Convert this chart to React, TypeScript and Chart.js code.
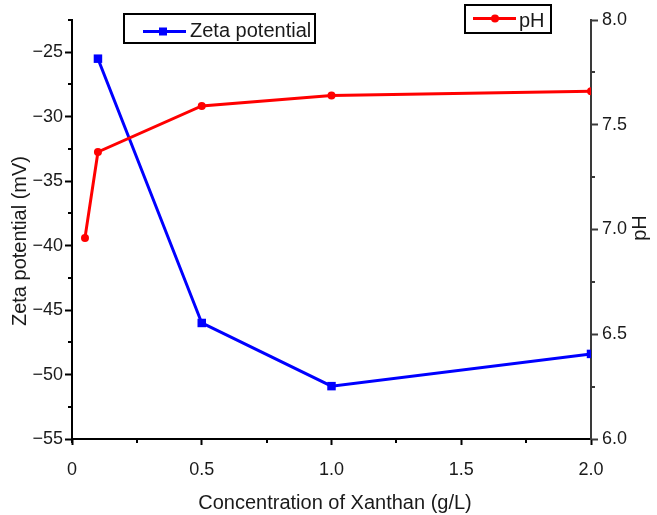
import { useEffect, useRef } from 'react';
import { Chart, registerables } from 'chart.js';

Chart.register(...registerables);

const zetaConcentration = [0.1, 0.5, 1.0, 2.0];
const zetaPotential = [-25.5, -46.0, -50.9, -48.4];
const phConcentration = [0.05, 0.1, 0.5, 1.0, 2.0];
const phValues = [6.96, 7.37, 7.59, 7.64, 7.66];

const xTicks = [0, 0.5, 1.0, 1.5, 2.0];
const xMinorTicks = [0.25, 0.75, 1.25, 1.75];
const zetaTicks = [-55, -50, -45, -40, -35, -30, -25];
const zetaMinorTicks = [-52.5, -47.5, -42.5, -37.5, -32.5, -27.5, -22.5];
const phTicks = [6.0, 6.5, 7.0, 7.5, 8.0];
const phMinorTicks = [6.25, 6.75, 7.25, 7.75];

const xTitle = 'Concentration of Xanthan (g/L)';
const zetaTitle = 'Zeta potential (mV)';
const phTitle = 'pH';
const zetaLabel = 'Zeta potential';
const phLabel = 'pH';

const FONT = "'Liberation Sans', Arial, Helvetica, sans-serif";
const BLUE = '#0000ff';
const RED = '#ff0000';
const RIGHT_AXIS = '#3a3a3a';

const decorPlugin = {
  id: 'decor',
  afterDraw(chart: any) {
    const ctx = chart.ctx as CanvasRenderingContext2D;
    const { left, right, top, bottom } = chart.chartArea;
    const xs = chart.scales.x;
    const ys = chart.scales.y;
    const y2 = chart.scales.y2;
    ctx.save();
    const seg = (x1: number, yA: number, x2: number, yB: number) => {
      ctx.beginPath();
      ctx.moveTo(x1, yA);
      ctx.lineTo(x2, yB);
      ctx.stroke();
    };
    // left axis extends a little below the x axis
    ctx.lineWidth = 2;
    ctx.strokeStyle = '#000';
    seg(left, bottom, left, bottom + 4);
    // minor ticks
    xMinorTicks.forEach((v) => {
      const px = Math.round(xs.getPixelForValue(v));
      seg(px, bottom, px, bottom + 4);
    });
    zetaMinorTicks.forEach((v) => {
      const py = Math.round(ys.getPixelForValue(v));
      seg(left - 4, py, left, py);
    });
    ctx.strokeStyle = RIGHT_AXIS;
    phMinorTicks.forEach((v) => {
      const py = Math.round(y2.getPixelForValue(v));
      seg(right, py, right + 4, py);
    });

    // axis titles
    ctx.fillStyle = '#1a1a1a';
    ctx.font = `20px ${FONT}`;
    ctx.textAlign = 'center';
    ctx.textBaseline = 'alphabetic';
    ctx.fillText(xTitle, 335, 509);

    ctx.textBaseline = 'middle';
    ctx.save();
    ctx.translate(20, 241);
    ctx.rotate(-Math.PI / 2);
    ctx.fillText(zetaTitle, 0, 0);
    ctx.restore();

    ctx.save();
    ctx.translate(640, 228);
    ctx.rotate(-Math.PI / 2);
    ctx.fillText(phTitle, 0, 0);
    ctx.restore();

    // legend boxes
    ctx.lineWidth = 2;
    ctx.strokeStyle = '#000';
    ctx.fillStyle = '#fff';
    ctx.fillRect(124, 14, 191, 29);
    ctx.strokeRect(124, 14, 191, 29);
    ctx.lineWidth = 3;
    ctx.strokeStyle = BLUE;
    seg(143, 31.5, 186, 31.5);
    ctx.fillStyle = BLUE;
    ctx.fillRect(159, 27.5, 8, 8);
    ctx.fillStyle = '#1a1a1a';
    ctx.textAlign = 'left';
    ctx.textBaseline = 'alphabetic';
    ctx.fillText(zetaLabel, 190, 37);

    ctx.lineWidth = 2;
    ctx.strokeStyle = '#000';
    ctx.fillStyle = '#fff';
    ctx.fillRect(465, 5, 86, 28);
    ctx.strokeRect(465, 5, 86, 28);
    ctx.lineWidth = 3;
    ctx.strokeStyle = RED;
    seg(473, 18.5, 516, 18.5);
    ctx.fillStyle = RED;
    ctx.beginPath();
    ctx.arc(495, 18.5, 4, 0, Math.PI * 2);
    ctx.fill();
    ctx.fillStyle = '#1a1a1a';
    ctx.fillText(phLabel, 519, 27);

    ctx.restore();
  },
};

export default function App() {
  const canvasRef = useRef<HTMLCanvasElement | null>(null);

  useEffect(() => {
    if (!canvasRef.current) return;
    const chart = new Chart(canvasRef.current, {
      type: 'line',
      data: {
        datasets: [
          {
            label: zetaLabel,
            data: zetaConcentration.map((x, i) => ({ x, y: zetaPotential[i] })),
            yAxisID: 'y',
            borderColor: BLUE,
            backgroundColor: BLUE,
            borderWidth: 3,
            pointStyle: 'rect',
            pointRadius: 6,
            pointBorderWidth: 0,
            tension: 0,
            order: 2,
          },
          {
            label: phLabel,
            data: phConcentration.map((x, i) => ({ x, y: phValues[i] })),
            yAxisID: 'y2',
            borderColor: RED,
            backgroundColor: RED,
            borderWidth: 3,
            pointStyle: 'circle',
            pointRadius: 4,
            pointBorderWidth: 0,
            tension: 0,
            order: 1,
          },
        ],
      },
      options: {
        responsive: false,
        animation: false,
        layout: { padding: { top: 20, left: 0, right: 0, bottom: 0 } },
        plugins: {
          legend: { display: false },
          tooltip: { enabled: false },
        },
        scales: {
          x: {
            type: 'linear',
            position: 'bottom',
            min: 0,
            max: 2.0,
            afterBuildTicks: (s: any) => {
              s.ticks = xTicks.map((v) => ({ value: v }));
            },
            afterFit: (s: any) => {
              s.height = 76;
            },
            grid: {
              display: true,
              drawOnChartArea: false,
              drawTicks: true,
              tickLength: 6,
              tickWidth: 2,
              tickColor: '#000',
            },
            border: { display: true, color: '#000', width: 2 },
            ticks: {
              color: '#1a1a1a',
              font: { family: FONT, size: 18 },
              padding: 14,
              maxRotation: 0,
              autoSkip: false,
              callback: (v: any) => (Number(v) === 0 ? '0' : Number(v).toFixed(1)),
            },
          },
          y: {
            type: 'linear',
            position: 'left',
            min: -55,
            max: -22.5,
            afterBuildTicks: (s: any) => {
              s.ticks = zetaTicks.map((v) => ({ value: v }));
            },
            afterFit: (s: any) => {
              s.width = 72;
            },
            grid: {
              display: true,
              drawOnChartArea: false,
              drawTicks: true,
              tickLength: 7,
              tickWidth: 2,
              tickColor: '#000',
            },
            border: { display: true, color: '#000', width: 2 },
            ticks: {
              color: '#1a1a1a',
              font: { family: FONT, size: 18 },
              padding: 2,
              autoSkip: false,
              callback: (v: any) => '\u2212' + Math.abs(Number(v)).toString(),
            },
          },
          y2: {
            type: 'linear',
            position: 'right',
            min: 6.0,
            max: 8.0,
            afterBuildTicks: (s: any) => {
              s.ticks = phTicks.map((v) => ({ value: v }));
            },
            afterFit: (s: any) => {
              s.width = 66;
            },
            grid: {
              display: true,
              drawOnChartArea: false,
              drawTicks: true,
              tickLength: 7,
              tickWidth: 2,
              tickColor: RIGHT_AXIS,
            },
            border: { display: true, color: RIGHT_AXIS, width: 2 },
            ticks: {
              color: '#1a1a1a',
              font: { family: FONT, size: 18 },
              padding: 4,
              autoSkip: false,
              callback: (v: any) => Number(v).toFixed(1),
            },
          },
        },
      },
      plugins: [decorPlugin],
    } as any);
    return () => chart.destroy();
  }, []);

  return (
    <div style={{ position: 'absolute', left: 0, top: 0, width: 657, height: 515, background: '#fff' }}>
      <canvas ref={canvasRef} width={657} height={515} style={{ display: 'block' }} />
    </div>
  );
}
